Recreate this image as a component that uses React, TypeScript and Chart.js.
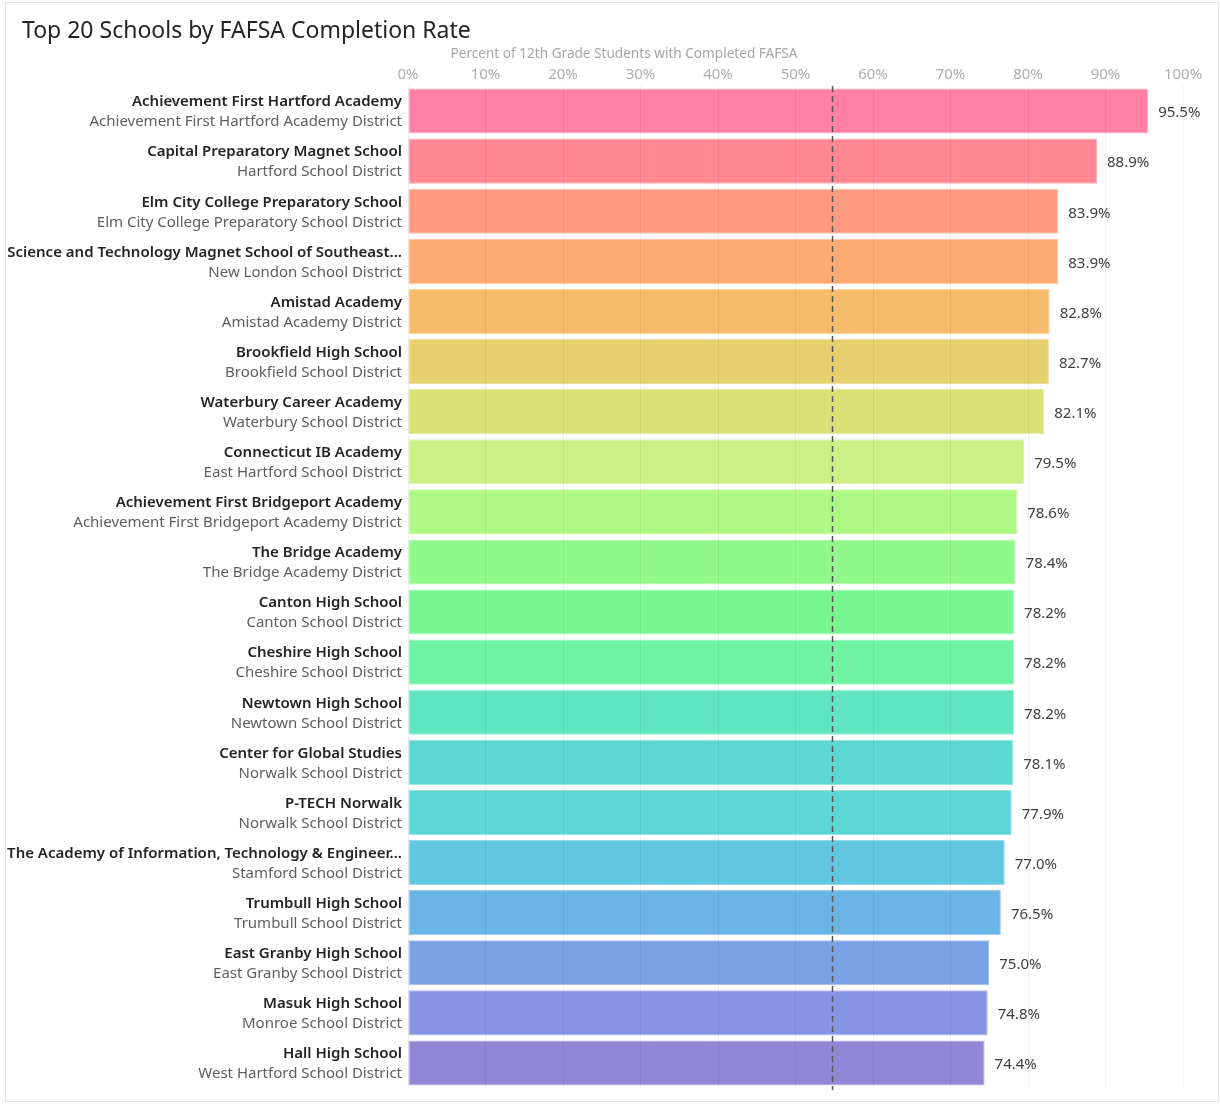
import React, { useEffect, useRef } from "react";
import { Chart, registerables } from "chart.js";

Chart.register(...registerables);

const schools = [
  "Achievement First Hartford Academy",
  "Capital Preparatory Magnet School",
  "Elm City College Preparatory School",
  "Science and Technology Magnet School of Southeast...",
  "Amistad Academy",
  "Brookfield High School",
  "Waterbury Career Academy",
  "Connecticut IB Academy",
  "Achievement First Bridgeport Academy",
  "The Bridge Academy",
  "Canton High School",
  "Cheshire High School",
  "Newtown High School",
  "Center for Global Studies",
  "P-TECH Norwalk",
  "The Academy of Information, Technology & Engineer...",
  "Trumbull High School",
  "East Granby High School",
  "Masuk High School",
  "Hall High School",
];

const districts = [
  "Achievement First Hartford Academy District",
  "Hartford School District",
  "Elm City College Preparatory School District",
  "New London School District",
  "Amistad Academy District",
  "Brookfield School District",
  "Waterbury School District",
  "East Hartford School District",
  "Achievement First Bridgeport Academy District",
  "The Bridge Academy District",
  "Canton School District",
  "Cheshire School District",
  "Newtown School District",
  "Norwalk School District",
  "Norwalk School District",
  "Stamford School District",
  "Trumbull School District",
  "East Granby School District",
  "Monroe School District",
  "West Hartford School District",
];

const rates = [
  95.5, 88.9, 83.9, 83.9, 82.8, 82.7, 82.1, 79.5, 78.6, 78.4, 78.2, 78.2, 78.2,
  78.1, 77.9, 77.0, 76.5, 75.0, 74.8, 74.4,
];

const barColors = [
  "#FF80A2", "#FE8791", "#FE9B80", "#FEAB73", "#F5BD6B", "#E6D06E", "#D8E276",
  "#CBF085", "#AEF884", "#91F88A", "#79F691", "#6EF4A3", "#60E6BF", "#5BD9D0",
  "#5DD7D6", "#61C6E0", "#6BB5E6", "#79A2E6", "#8794E3", "#9186D6",
];

const averageRate = 54.7;

const chartTitle = "Top 20 Schools by FAFSA Completion Rate";
const axisTitle = "Percent of 12th Grade Students with Completed FAFSA";

const FONT = "'Noto Sans', 'Open Sans', sans-serif";

function lighten(hex: string, amt: number): string {
  const n = parseInt(hex.slice(1), 16);
  const r = (n >> 16) & 255, g = (n >> 8) & 255, b = n & 255;
  const f = (c: number) => Math.round(c + (255 - c) * amt);
  return `rgb(${f(r)},${f(g)},${f(b)})`;
}

const overlayPlugin = {
  id: "overlay",
  afterDatasetsDraw(chart: any) {
    const { ctx, chartArea, scales } = chart;
    const x = scales.x;
    ctx.save();
    const ax = Math.round(x.getPixelForValue(averageRate)) + 0.5;
    ctx.strokeStyle = "#555555";
    ctx.lineWidth = 1.5;
    ctx.setLineDash([6, 4]);
    ctx.beginPath();
    ctx.moveTo(ax, chartArea.top);
    ctx.lineTo(ax, chartArea.bottom + 2);
    ctx.stroke();
    ctx.setLineDash([]);
    ctx.restore();
  },
  afterDraw(chart: any) {
    const { ctx, chartArea, scales } = chart;
    const x = scales.x, y = scales.y;
    ctx.save();
    // frame
    ctx.strokeStyle = "#e4e4e4";
    ctx.lineWidth = 1;
    ctx.strokeRect(5.5, 2.5, 1213, 1099);
    // title
    ctx.fillStyle = "#252423";
    ctx.font = `23px ${FONT}`;
    ctx.textAlign = "left";
    ctx.textBaseline = "middle";
    ctx.fillText(chartTitle, 22, 31);
    // axis title
    ctx.fillStyle = "#a6a6a6";
    ctx.font = `13.6px ${FONT}`;
    ctx.textAlign = "center";
    ctx.fillText(axisTitle, 624, 54);
    // category labels
    ctx.textAlign = "right";
    for (let i = 0; i < schools.length; i++) {
      const cy = y.getPixelForValue(i);
      ctx.fillStyle = "#252423";
      ctx.font = `600 15px ${FONT}`;
      ctx.fillText(schools[i], chartArea.left - 6, cy - 9);
      ctx.fillStyle = "#605e5c";
      ctx.font = `15px ${FONT}`;
      ctx.fillText(districts[i], chartArea.left - 6, cy + 11);
    }
    // value labels
    ctx.textAlign = "left";
    ctx.fillStyle = "#404040";
    ctx.font = `15px ${FONT}`;
    for (let i = 0; i < rates.length; i++) {
      const cy = y.getPixelForValue(i);
      const px = x.getPixelForValue(rates[i]);
      ctx.fillText(rates[i].toFixed(1) + "%", px + 10, cy + 2);
    }
    ctx.restore();
  },
};

export default function App() {
  const canvasRef = useRef<HTMLCanvasElement | null>(null);

  useEffect(() => {
    const canvas = canvasRef.current;
    if (!canvas) return;
    const chart = new Chart(canvas, {
      type: "bar",
      data: {
        labels: schools,
        datasets: [
          {
            data: rates,
            backgroundColor: barColors,
            borderColor: barColors.map((c) => lighten(c, 0.35)),
            borderWidth: 1,
            borderSkipped: false,
            barPercentage: 0.9,
            categoryPercentage: 1,
          },
        ],
      },
      options: {
        indexAxis: "y",
        responsive: false,
        animation: false,
        devicePixelRatio: 1,
        layout: { padding: { top: 56, left: 0, right: 37, bottom: 22 } },
        plugins: {
          legend: { display: false },
          title: { display: false },
          tooltip: { enabled: false },
        },
        scales: {
          x: {
            position: "top",
            min: 0,
            max: 100,
            border: { display: false },
            grid: { color: "rgba(0,0,0,0.06)", drawTicks: false, z: 1 },
            ticks: {
              stepSize: 10,
              padding: 2,
              color: "#adadad",
              font: { family: FONT, size: 15 },
              callback: (v: any) => v + "%",
            },
            afterFit: (s: any) => {
              s.height = 30;
            },
          },
          y: {
            border: { display: false },
            grid: { display: false },
            ticks: { display: false },
            afterFit: (s: any) => {
              s.width = 408;
            },
          },
        },
      },
      plugins: [overlayPlugin],
    });
    return () => chart.destroy();
  }, []);

  return (
    <div style={{ position: "absolute", left: 0, top: 0, width: 1220, height: 1110, background: "#fff" }}>
      <canvas ref={canvasRef} width={1220} height={1110} />
    </div>
  );
}
